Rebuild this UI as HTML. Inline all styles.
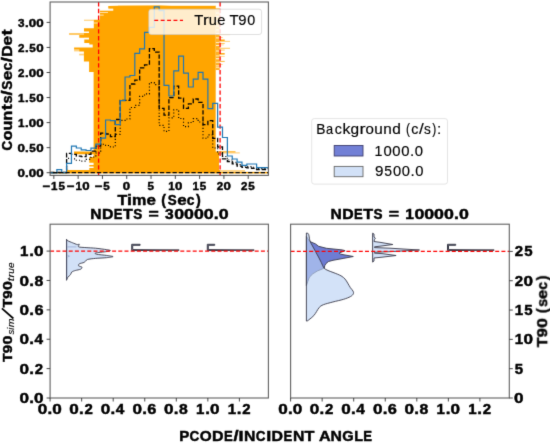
<!DOCTYPE html><html><head><meta charset="utf-8"><style>html,body{margin:0;padding:0;background:#fff;}svg{display:block;will-change:transform;}text{font-family:'Liberation Sans', sans-serif;}text[font-weight=bold],g.b text{stroke:#000;stroke-width:0.45px;}text[font-weight=normal],g.n text{stroke:#000;stroke-width:0.15px;}</style></head><body>
<svg width="550" height="444" viewBox="0 0 550 444">
<rect width="550" height="444" fill="#fff"/>
<filter id="soft" x="0" y="0" width="550" height="444" filterUnits="userSpaceOnUse" color-interpolation-filters="sRGB"><feConvolveMatrix order="3" kernelMatrix="0.0113 0.0838 0.0113 0.0838 0.6193 0.0838 0.0113 0.0838 0.0113" edgeMode="duplicate" preserveAlpha="false"/></filter>
<g filter="url(#soft)">
<rect width="550" height="444" fill="#fff"/>
<defs><clipPath id="ctop"><rect x="50.1" y="2.0" width="218.29999999999998" height="173.4"/></clipPath><clipPath id="cbl"><rect x="50.1" y="224.2" width="218.29999999999998" height="173.8"/></clipPath><clipPath id="cbr"><rect x="290.6" y="224.2" width="218.7" height="173.8"/></clipPath></defs>
<g clip-path="url(#ctop)">
<path d="M108.5,6.0 L118,5.8 L160,5.6 L215.7,8.0 L215.7,9.6 L108.5,9.6 Z" fill="#FFA500"/>
<rect x="84" y="19.7" width="9.8" height="1.1" fill="#FFA500" fill-opacity="0.55"/>
<rect x="69.1" y="33" width="14.9" height="2.0" fill="#FFA500" fill-opacity="0.6"/>
<rect x="74.1" y="49.5" width="5.1" height="1.9" fill="#FFA500" fill-opacity="0.5"/>
<rect x="79.2" y="53.7" width="4.7" height="1.7" fill="#FFA500" fill-opacity="0.5"/>
<rect x="118" y="5.6" width="98.0" height="0.4" fill="#FFA500" fill-opacity="0.5"/>
<rect x="215.7" y="8.3" width="4.0" height="61.7" fill="#FFA500" fill-opacity="0.85"/>
<rect x="216" y="12.5" width="3.5" height="1.0" fill="#fff" fill-opacity="0.8"/>
<rect x="216" y="16.2" width="3.5" height="0.9" fill="#fff" fill-opacity="0.8"/>
<rect x="216" y="20.5" width="3.5" height="1.2" fill="#fff" fill-opacity="0.8"/>
<rect x="216" y="25.6" width="3.5" height="0.9" fill="#fff" fill-opacity="0.8"/>
<rect x="216" y="29.4" width="3.5" height="1.0" fill="#fff" fill-opacity="0.8"/>
<rect x="216" y="33" width="3.5" height="0.9" fill="#fff" fill-opacity="0.8"/>
<rect x="216" y="37.4" width="3.5" height="1.0" fill="#fff" fill-opacity="0.8"/>
<rect x="216" y="42" width="3.5" height="0.9" fill="#fff" fill-opacity="0.8"/>
<rect x="216" y="45" width="3.5" height="1.0" fill="#fff" fill-opacity="0.8"/>
<rect x="216" y="50.5" width="3.5" height="1.0" fill="#fff" fill-opacity="0.8"/>
<rect x="216" y="55.5" width="3.5" height="0.9" fill="#fff" fill-opacity="0.8"/>
<rect x="215.7" y="58.1" width="4" height="1.2" fill="#fff" fill-opacity="0.8"/>
<rect x="216" y="61.8" width="3.5" height="0.9" fill="#fff" fill-opacity="0.8"/>
<rect x="216" y="65.4" width="3.5" height="1.0" fill="#fff" fill-opacity="0.8"/>
<rect x="216" y="67.3" width="3.5" height="0.8" fill="#fff" fill-opacity="0.8"/>
<rect x="219.7" y="34.3" width="10.3" height="0.8" fill="#FFA500" fill-opacity="0.5"/>
<rect x="219.7" y="39.5" width="5" height="1.5" fill="#FFA500" fill-opacity="0.95"/>
<rect x="219.7" y="40.9" width="10.3" height="0.8" fill="#FFA500" fill-opacity="0.7"/>
<rect x="219.7" y="43" width="5" height="0.9" fill="#FFA500" fill-opacity="0.7"/>
<rect x="219.7" y="47.8" width="10.3" height="0.9" fill="#FFA500" fill-opacity="0.75"/>
<rect x="219.7" y="49.6" width="5" height="0.9" fill="#FFA500" fill-opacity="0.7"/>
<rect x="219.7" y="53" width="5" height="1.6" fill="#FFA500" fill-opacity="0.9"/>
<rect x="219.7" y="56" width="5" height="0.8" fill="#FFA500" fill-opacity="0.5"/>
<rect x="219.7" y="60.9" width="5" height="1.0" fill="#FFA500" fill-opacity="0.8"/>
<rect x="219.7" y="37" width="3" height="1" fill="#FFA500" fill-opacity="0.5"/>
<rect x="219.7" y="44.5" width="4" height="0.8" fill="#FFA500" fill-opacity="0.5"/>
<rect x="219.7" y="64" width="3" height="0.8" fill="#FFA500" fill-opacity="0.5"/>
<path d="M108.5,6.0H215.7V8.6H108.5ZM113.2,8.6H215.7V10.5H113.2ZM99.9,10.5H215.7V19.7H99.9ZM93.8,19.7H215.7V20.8H93.8ZM93.8,20.8H215.7V28.3H93.8ZM84,28.3H215.7V31.4H84ZM89,31.4H215.7V33H89ZM84,33H215.7V35H84ZM79.3,35H215.7V37.7H79.3ZM89,37.7H215.7V39.5H89ZM84.3,39.5H215.7V43H84.3ZM89.3,43H215.7V44.5H89.3ZM92.7,44.5H215.7V47.6H92.7ZM74.1,47.6H215.7V49.5H74.1ZM79.2,49.5H215.7V51.4H79.2ZM83.9,51.4H215.7V55.4H83.9ZM83.9,55.4H215.7V61.5H83.9ZM89.1,61.5H215.7V72H89.1ZM93.6,72H215.7V151.6H93.6ZM74,151.6H219.0V154.3H74ZM93.6,154.3H219.0V157H93.6ZM89.3,157H219.0V162.8H89.3ZM93.6,162.8H219.0V165H93.6ZM89.3,165H219.0V166.6H89.3ZM93.6,166.6H219.0V168H93.6ZM89.3,168H219.0V170H89.3ZM66.8,170H220.0V172.6H66.8Z" fill="#FFA500"/>
<rect x="99.9" y="8.6" width="13.3" height="1.9" fill="#fff" fill-opacity="0.85"/>
<rect x="99.9" y="12.1" width="8.1" height="0.9" fill="#fff" fill-opacity="0.75"/>
<rect x="99.9" y="14.6" width="3.8" height="1.0" fill="#fff" fill-opacity="0.7"/>
<rect x="93.8" y="22.3" width="4" height="1.4" fill="#fff" fill-opacity="0.5"/>
<rect x="84" y="37.8" width="5" height="1.2" fill="#fff" fill-opacity="0.5"/>
<rect x="50.1" y="171.9" width="218.29999999999998" height="1.5" fill="#FFA500"/>
<rect x="220" y="170.3" width="25" height="1.2" fill="#FFA500" fill-opacity="0.7"/>
<rect x="219" y="151.2" width="16.5" height="1.2" fill="#FFA500" fill-opacity="0.85"/>
<rect x="219" y="152.4" width="20.8" height="1.0" fill="#FFA500" fill-opacity="0.6"/>
<line x1="98.6" y1="2.0" x2="98.6" y2="175.4" stroke="#FF0000" stroke-width="1.3" stroke-dasharray="4.4,2.4"/>
<line x1="220.1" y1="2.0" x2="220.1" y2="175.4" stroke="#FF0000" stroke-width="1.3" stroke-dasharray="4.4,2.4"/>
<path d="M50.10,172.50 L51.98,172.50 L51.98,172.50 L56.85,172.50 L56.85,172.50 L61.72,172.50 L61.72,172.50 L66.59,172.50 L66.59,158.40 L71.47,158.40 L71.47,158.80 L76.34,158.80 L76.34,160.20 L81.21,160.20 L81.21,161.10 L86.08,161.10 L86.08,159.30 L90.95,159.30 L90.95,157.00 L95.83,157.00 L95.83,153.00 L100.70,153.00 L100.70,144.20 L105.57,144.20 L105.57,145.50 L110.44,145.50 L110.44,147.00 L115.31,147.00 L115.31,134.20 L120.19,134.20 L120.19,120.40 L125.06,120.40 L125.06,119.00 L129.93,119.00 L129.93,107.50 L134.80,107.50 L134.80,105.40 L139.67,105.40 L139.67,96.30 L144.55,96.30 L144.55,93.80 L149.42,93.80 L149.42,82.60 L154.29,82.60 L154.29,84.60 L159.16,84.60 L159.16,125.30 L164.03,125.30 L164.03,131.40 L168.91,131.40 L168.91,117.80 L173.78,117.80 L173.78,109.70 L178.65,109.70 L178.65,118.50 L183.52,118.50 L183.52,126.60 L188.39,126.60 L188.39,122.50 L193.27,122.50 L193.27,118.60 L198.14,118.60 L198.14,122.00 L203.01,122.00 L203.01,138.20 L207.88,138.20 L207.88,134.90 L212.75,134.90 L212.75,148.00 L217.63,148.00 L217.63,154.00 L222.50,154.00 L222.50,156.50 L227.37,156.50 L227.37,160.00 L232.24,160.00 L232.24,162.30 L237.11,162.30 L237.11,164.60 L241.99,164.60 L241.99,166.00 L246.86,166.00 L246.86,166.60 L251.73,166.60 L251.73,167.20 L256.60,167.20 L256.60,168.60 L261.47,168.60 L261.47,168.60 L266.35,168.60 L266.35,168.60 L268.40,168.60" fill="none" stroke="#000" stroke-width="1.15" stroke-dasharray="1.1,2.1" />
<path d="M50.10,172.50 L51.98,172.50 L51.98,172.50 L56.85,172.50 L56.85,172.50 L61.72,172.50 L61.72,172.50 L66.59,172.50 L66.59,153.40 L71.47,153.40 L71.47,154.30 L76.34,154.30 L76.34,156.10 L81.21,156.10 L81.21,156.60 L86.08,156.60 L86.08,154.30 L90.95,154.30 L90.95,151.20 L95.83,151.20 L95.83,146.10 L100.70,146.10 L100.70,133.20 L105.57,133.20 L105.57,134.00 L110.44,134.00 L110.44,136.70 L115.31,136.70 L115.31,119.50 L120.19,119.50 L120.19,100.40 L125.06,100.40 L125.06,100.40 L129.93,100.40 L129.93,84.00 L134.80,84.00 L134.80,80.10 L139.67,80.10 L139.67,67.80 L144.55,67.80 L144.55,64.80 L149.42,64.80 L149.42,48.70 L154.29,48.70 L154.29,52.20 L159.16,52.20 L159.16,108.40 L164.03,108.40 L164.03,115.10 L168.91,115.10 L168.91,97.60 L173.78,97.60 L173.78,86.10 L178.65,86.10 L178.65,98.20 L183.52,98.20 L183.52,108.40 L188.39,108.40 L188.39,103.80 L193.27,103.80 L193.27,99.00 L198.14,99.00 L198.14,102.40 L203.01,102.40 L203.01,124.70 L207.88,124.70 L207.88,120.70 L212.75,120.70 L212.75,138.30 L217.63,138.30 L217.63,147.00 L222.50,147.00 L222.50,158.80 L227.37,158.80 L227.37,161.60 L232.24,161.60 L232.24,163.90 L237.11,163.90 L237.11,166.10 L241.99,166.10 L241.99,167.30 L246.86,167.30 L246.86,167.80 L251.73,167.80 L251.73,168.30 L256.60,168.30 L256.60,169.50 L261.47,169.50 L261.47,169.50 L266.35,169.50 L266.35,169.50 L268.40,169.50" fill="none" stroke="#000" stroke-width="1.3" stroke-dasharray="4.4,1.9" />
<path d="M50.10,172.90 L51.98,172.90 L51.98,172.90 L56.85,172.90 L56.85,169.60 L61.72,169.60 L61.72,172.60 L66.59,172.60 L66.59,163.30 L71.47,163.30 L71.47,146.20 L76.34,146.20 L76.34,148.00 L81.21,148.00 L81.21,149.80 L86.08,149.80 L86.08,150.50 L90.95,150.50 L90.95,148.20 L95.83,148.20 L95.83,144.20 L100.70,144.20 L100.70,138.10 L105.57,138.10 L105.57,120.00 L110.44,120.00 L110.44,120.70 L115.31,120.70 L115.31,124.70 L120.19,124.70 L120.19,100.70 L125.06,100.70 L125.06,77.00 L129.93,77.00 L129.93,75.50 L134.80,75.50 L134.80,53.40 L139.67,53.40 L139.67,48.80 L144.55,48.80 L144.55,32.40 L149.42,32.40 L149.42,27.40 L154.29,27.40 L154.29,6.80 L159.16,6.80 L159.16,10.70 L164.03,10.70 L164.03,85.40 L168.91,85.40 L168.91,96.00 L173.78,96.00 L173.78,70.80 L178.65,70.80 L178.65,56.20 L183.52,56.20 L183.52,73.10 L188.39,73.10 L188.39,87.00 L193.27,87.00 L193.27,79.20 L198.14,79.20 L198.14,72.40 L203.01,72.40 L203.01,79.20 L207.88,79.20 L207.88,108.70 L212.75,108.70 L212.75,103.40 L217.63,103.40 L217.63,127.20 L222.50,127.20 L222.50,137.50 L227.37,137.50 L227.37,156.00 L232.24,156.00 L232.24,159.00 L237.11,159.00 L237.11,162.20 L241.99,162.20 L241.99,165.30 L246.86,165.30 L246.86,164.00 L251.73,164.00 L251.73,164.00 L256.60,164.00 L256.60,167.70 L261.47,167.70 L261.47,167.70 L266.35,167.70 L266.35,167.70 L268.40,167.70" fill="none" stroke="#1f77b4" stroke-width="1.2" />
<line x1="46.5" y1="172.6" x2="268.4" y2="172.6" stroke="#000" stroke-width="1.35" stroke-dasharray="4.3,2.0"/>
</g>
<rect x="148.8" y="9.2" width="112.8" height="25.3" rx="2.5" fill="#fff" fill-opacity="0.8" stroke="#ccc" stroke-opacity="0.8" stroke-width="0.8"/>
<line x1="154.3" y1="20.4" x2="183" y2="20.4" stroke="#FF0000" stroke-width="1.3" stroke-dasharray="3.9,2.5"/>
<g transform="translate(194.60,24.70)" font-size="14.4" font-weight="normal" class="n"><text transform="translate(4.19,0) scale(1.030,1)" x="-4.39" y="0">T</text><text transform="translate(11.76,0) scale(1.210,1)" x="-2.76" y="0">r</text><text transform="translate(18.21,0) scale(1.018,1)" x="-3.99" y="0">u</text><text transform="translate(26.76,0) scale(1.020,1)" x="-3.99" y="0">e</text><text transform="translate(39.40,0) scale(1.030,1)" x="-4.39" y="0">T</text><text transform="translate(47.83,0) scale(1.028,1)" x="-4.00" y="0">9</text><text transform="translate(56.53,0) scale(0.996,1)" x="-4.00" y="0">0</text></g>
<rect x="50.1" y="2.0" width="218.29999999999998" height="173.4" fill="none" stroke="#606060" stroke-width="1.1"/>
<path d="M53.84,175.4v3.5M78.14,175.4v3.5M102.44,175.4v3.5M126.73,175.4v3.5M151.03,175.4v3.5M175.32,175.4v3.5M199.62,175.4v3.5M223.91,175.4v3.5M248.20,175.4v3.5M50.1,172.70h-3.5M50.1,147.65h-3.5M50.1,122.60h-3.5M50.1,97.55h-3.5M50.1,72.50h-3.5M50.1,47.45h-3.5M50.1,22.40h-3.5" stroke="#333" stroke-width="0.9" fill="none"/>
<g transform="translate(53.55,189.90)" font-size="11.2" font-weight="bold" class="b"><text transform="translate(-7.31,0) scale(1.170,1)" x="-3.27" y="0">−</text><text transform="translate(0.98,0) scale(1.036,1)" x="-3.31" y="0">1</text><text transform="translate(8.09,0) scale(1.034,1)" x="-3.13" y="0">5</text></g>
<g transform="translate(77.84,189.90)" font-size="11.2" font-weight="bold" class="b"><text transform="translate(-7.31,0) scale(1.170,1)" x="-3.27" y="0">−</text><text transform="translate(0.98,0) scale(1.036,1)" x="-3.31" y="0">1</text><text transform="translate(8.05,0) scale(1.183,1)" x="-3.11" y="0">0</text></g>
<g transform="translate(102.14,189.90)" font-size="11.2" font-weight="bold" class="b"><text transform="translate(-3.65,0) scale(1.170,1)" x="-3.27" y="0">−</text><text transform="translate(4.44,0) scale(1.034,1)" x="-3.13" y="0">5</text></g>
<g transform="translate(126.43,189.90)" font-size="11.2" font-weight="bold" class="b"><text transform="translate(0.00,0) scale(1.183,1)" x="-3.11" y="0">0</text></g>
<g transform="translate(150.72,189.90)" font-size="11.2" font-weight="bold" class="b"><text transform="translate(0.04,0) scale(1.034,1)" x="-3.13" y="0">5</text></g>
<g transform="translate(175.02,189.90)" font-size="11.2" font-weight="bold" class="b"><text transform="translate(-3.42,0) scale(1.036,1)" x="-3.31" y="0">1</text><text transform="translate(3.65,0) scale(1.183,1)" x="-3.11" y="0">0</text></g>
<g transform="translate(199.31,189.90)" font-size="11.2" font-weight="bold" class="b"><text transform="translate(-3.42,0) scale(1.036,1)" x="-3.31" y="0">1</text><text transform="translate(3.69,0) scale(1.034,1)" x="-3.13" y="0">5</text></g>
<g transform="translate(223.61,189.90)" font-size="11.2" font-weight="bold" class="b"><text transform="translate(-3.69,0) scale(1.032,1)" x="-3.08" y="0">2</text><text transform="translate(3.65,0) scale(1.183,1)" x="-3.11" y="0">0</text></g>
<g transform="translate(247.90,189.90)" font-size="11.2" font-weight="bold" class="b"><text transform="translate(-3.69,0) scale(1.032,1)" x="-3.08" y="0">2</text><text transform="translate(3.69,0) scale(1.034,1)" x="-3.13" y="0">5</text></g>
<g transform="translate(43.60,176.80)" font-size="11.2" font-weight="bold" class="b"><text transform="translate(-22.47,0) scale(1.194,1)" x="-3.11" y="0">0</text><text transform="translate(-16.76,0) scale(1.179,1)" x="-1.55" y="0">.</text><text transform="translate(-11.06,0) scale(1.194,1)" x="-3.11" y="0">0</text><text transform="translate(-3.69,0) scale(1.194,1)" x="-3.11" y="0">0</text></g>
<g transform="translate(43.60,151.75)" font-size="11.2" font-weight="bold" class="b"><text transform="translate(-22.47,0) scale(1.194,1)" x="-3.11" y="0">0</text><text transform="translate(-16.76,0) scale(1.179,1)" x="-1.55" y="0">.</text><text transform="translate(-11.02,0) scale(1.044,1)" x="-3.13" y="0">5</text><text transform="translate(-3.69,0) scale(1.194,1)" x="-3.11" y="0">0</text></g>
<g transform="translate(43.60,126.70)" font-size="11.2" font-weight="bold" class="b"><text transform="translate(-22.23,0) scale(1.046,1)" x="-3.31" y="0">1</text><text transform="translate(-16.76,0) scale(1.179,1)" x="-1.55" y="0">.</text><text transform="translate(-11.06,0) scale(1.194,1)" x="-3.11" y="0">0</text><text transform="translate(-3.69,0) scale(1.194,1)" x="-3.11" y="0">0</text></g>
<g transform="translate(43.60,101.65)" font-size="11.2" font-weight="bold" class="b"><text transform="translate(-22.23,0) scale(1.046,1)" x="-3.31" y="0">1</text><text transform="translate(-16.76,0) scale(1.179,1)" x="-1.55" y="0">.</text><text transform="translate(-11.02,0) scale(1.044,1)" x="-3.13" y="0">5</text><text transform="translate(-3.69,0) scale(1.194,1)" x="-3.11" y="0">0</text></g>
<g transform="translate(43.60,76.60)" font-size="11.2" font-weight="bold" class="b"><text transform="translate(-22.51,0) scale(1.041,1)" x="-3.08" y="0">2</text><text transform="translate(-16.76,0) scale(1.179,1)" x="-1.55" y="0">.</text><text transform="translate(-11.06,0) scale(1.194,1)" x="-3.11" y="0">0</text><text transform="translate(-3.69,0) scale(1.194,1)" x="-3.11" y="0">0</text></g>
<g transform="translate(43.60,51.55)" font-size="11.2" font-weight="bold" class="b"><text transform="translate(-22.51,0) scale(1.041,1)" x="-3.08" y="0">2</text><text transform="translate(-16.76,0) scale(1.179,1)" x="-1.55" y="0">.</text><text transform="translate(-11.02,0) scale(1.044,1)" x="-3.13" y="0">5</text><text transform="translate(-3.69,0) scale(1.194,1)" x="-3.11" y="0">0</text></g>
<g transform="translate(43.60,26.50)" font-size="11.2" font-weight="bold" class="b"><text transform="translate(-22.53,0) scale(1.046,1)" x="-3.04" y="0">3</text><text transform="translate(-16.76,0) scale(1.179,1)" x="-1.55" y="0">.</text><text transform="translate(-11.06,0) scale(1.194,1)" x="-3.11" y="0">0</text><text transform="translate(-3.69,0) scale(1.194,1)" x="-3.11" y="0">0</text></g>
<g transform="translate(117.70,204.80)" font-size="14.0" font-weight="bold" class="b"><text transform="translate(4.69,0) scale(1.137,1)" x="-4.28" y="0">T</text><text transform="translate(11.84,0) scale(1.269,1)" x="-1.94" y="0">i</text><text transform="translate(21.52,0) scale(1.152,1)" x="-6.25" y="0">m</text><text transform="translate(33.46,0) scale(1.211,1)" x="-3.93" y="0">e</text><text transform="translate(46.31,0) scale(1.027,1)" x="-2.67" y="0">(</text><text transform="translate(54.47,0) scale(0.957,1)" x="-4.60" y="0">S</text><text transform="translate(64.20,0) scale(1.211,1)" x="-3.93" y="0">e</text><text transform="translate(72.93,0) scale(0.986,1)" x="-3.96" y="0">c</text><text transform="translate(80.38,0) scale(1.027,1)" x="-1.99" y="0">)</text></g>
<g transform="translate(11.80,150.00) rotate(-90)" font-size="14.0" font-weight="bold" class="b"><text transform="translate(4.37,0) scale(0.955,1)" x="-5.15" y="0">C</text><text transform="translate(14.49,0) scale(1.136,1)" x="-4.28" y="0">o</text><text transform="translate(24.31,0) scale(1.147,1)" x="-4.25" y="0">u</text><text transform="translate(34.43,0) scale(1.147,1)" x="-4.30" y="0">n</text><text transform="translate(42.71,0) scale(1.300,1)" x="-2.33" y="0">t</text><text transform="translate(50.38,0) scale(1.041,1)" x="-3.85" y="0">s</text><text transform="translate(57.12,0) scale(1.300,1)" x="-1.94" y="0">/</text><text transform="translate(64.76,0) scale(0.967,1)" x="-4.60" y="0">S</text><text transform="translate(74.59,0) scale(1.224,1)" x="-3.93" y="0">e</text><text transform="translate(83.42,0) scale(0.997,1)" x="-3.96" y="0">c</text><text transform="translate(90.34,0) scale(1.300,1)" x="-1.94" y="0">/</text><text transform="translate(99.05,0) scale(1.127,1)" x="-5.23" y="0">D</text><text transform="translate(109.36,0) scale(1.224,1)" x="-3.93" y="0">e</text><text transform="translate(117.49,0) scale(1.300,1)" x="-2.33" y="0">t</text></g>
<rect x="311.7" y="118.6" width="135.8" height="65.5" rx="2.5" fill="#fff" stroke="#ddd" stroke-width="0.8"/>
<g transform="translate(317.40,134.10)" font-size="14.2" font-weight="normal" class="n"><text transform="translate(3.67,0) scale(0.972,1)" x="-4.94" y="0">B</text><text transform="translate(12.48,0) scale(0.899,1)" x="-4.25" y="0">a</text><text transform="translate(20.90,0) scale(1.003,1)" x="-3.66" y="0">c</text><text transform="translate(29.59,0) scale(1.118,1)" x="-4.04" y="0">k</text><text transform="translate(37.33,0) scale(1.087,1)" x="-3.79" y="0">g</text><text transform="translate(45.66,0) scale(1.281,1)" x="-2.72" y="0">r</text><text transform="translate(52.28,0) scale(1.063,1)" x="-3.95" y="0">o</text><text transform="translate(61.08,0) scale(1.078,1)" x="-3.94" y="0">u</text><text transform="translate(70.16,0) scale(1.078,1)" x="-3.96" y="0">n</text><text transform="translate(78.87,0) scale(1.087,1)" x="-3.79" y="0">d</text><text transform="translate(90.96,0) scale(0.850,1)" x="-2.76" y="0">(</text><text transform="translate(97.54,0) scale(1.003,1)" x="-3.66" y="0">c</text><text transform="translate(103.89,0) scale(1.213,1)" x="-1.97" y="0">/</text><text transform="translate(110.02,0) scale(0.959,1)" x="-3.49" y="0">s</text><text transform="translate(116.40,0) scale(0.850,1)" x="-1.97" y="0">)</text><text transform="translate(121.61,0) scale(1.082,1)" x="-1.97" y="0">:</text></g>
<rect x="334.2" y="145.5" width="28.8" height="10.5" fill="#7280D6" stroke="#3c3c6e" stroke-width="0.9"/>
<rect x="334.2" y="166.4" width="28.8" height="10.3" fill="#D2E1F7" stroke="#666" stroke-width="0.9"/>
<g transform="translate(375.60,156.00)" font-size="14.2" font-weight="normal" class="n"><text transform="translate(3.06,0) scale(1.000,1)" x="-4.14" y="0">1</text><text transform="translate(11.90,0) scale(1.047,1)" x="-3.95" y="0">0</text><text transform="translate(20.87,0) scale(1.047,1)" x="-3.95" y="0">0</text><text transform="translate(29.85,0) scale(1.047,1)" x="-3.95" y="0">0</text><text transform="translate(36.57,0) scale(1.074,1)" x="-1.97" y="0">.</text><text transform="translate(43.30,0) scale(1.047,1)" x="-3.95" y="0">0</text></g>
<g transform="translate(375.60,175.80)" font-size="14.2" font-weight="normal" class="n"><text transform="translate(3.52,0) scale(1.073,1)" x="-3.95" y="0">9</text><text transform="translate(12.41,0) scale(0.981,1)" x="-3.93" y="0">5</text><text transform="translate(21.38,0) scale(1.039,1)" x="-3.95" y="0">0</text><text transform="translate(30.29,0) scale(1.039,1)" x="-3.95" y="0">0</text><text transform="translate(36.97,0) scale(1.067,1)" x="-1.97" y="0">.</text><text transform="translate(43.65,0) scale(1.039,1)" x="-3.95" y="0">0</text></g>
<g clip-path="url(#cbl)">
<path d="M66.50,239.20 C66.65,239.39 67.09,240.38 67.80,240.80 C68.51,241.22 71.49,242.36 72.60,242.80 C73.71,243.24 76.52,244.44 77.30,244.60 C78.08,244.76 79.15,243.93 79.30,244.20 C79.45,244.47 77.81,246.50 78.60,246.90 C79.39,247.30 84.13,247.45 86.10,247.60 C88.07,247.75 93.13,247.97 95.50,248.20 C97.87,248.43 104.66,249.33 106.40,249.60 C108.14,249.87 110.40,250.27 110.40,250.50 C110.40,250.73 108.14,251.31 106.40,251.60 C104.66,251.89 96.61,252.69 95.50,253.00 C94.39,253.31 95.63,254.02 96.90,254.30 C98.17,254.58 104.51,255.13 106.40,255.40 C108.29,255.67 113.10,256.33 113.10,256.60 C113.10,256.87 108.45,257.49 106.40,257.70 C104.35,257.91 97.72,258.19 95.50,258.40 C93.28,258.61 88.73,259.03 87.40,259.50 C86.07,259.97 85.05,261.90 84.10,262.40 C83.15,262.90 79.94,263.40 79.30,263.80 C78.66,264.20 78.28,265.40 78.60,265.80 C78.91,266.20 81.75,266.80 82.00,267.20 C82.25,267.60 81.48,268.81 80.70,269.20 C79.92,269.58 76.33,270.19 75.30,270.50 C74.27,270.81 72.46,271.42 71.90,271.90 C71.34,272.38 70.98,273.97 70.50,274.60 C70.02,275.23 68.27,276.63 67.80,277.30 C67.33,277.97 66.65,279.95 66.50,280.30 Z" fill="#D2E1F7" stroke="#3a3a4a" stroke-width="0.9"/>
<path d="M66.6,240 V279.5" stroke="#4a4f66" stroke-width="1.1" fill="none"/>
<path d="M67.5,246.9 H76.5" stroke="#7c8fc4" stroke-width="0.8" fill="none" opacity="0.7"/>
<path d="M67.5,255.3 L69.5,256.2 L67.5,257" stroke="#7c8fc4" stroke-width="0.8" fill="none" opacity="0.7"/>
<path d="M131.7,250.6 V244.3 H140.1 V245.3 H132.7 V249.6 L179.2,250.1 L131.7,250.6 Z" fill="#D2E1F7" stroke="#222230" stroke-width="0.9" stroke-linejoin="miter"/>
<path d="M207.3,250.6 V244.3 H214.7 V245.3 H208.3 V249.6 L254.2,250.1 L207.3,250.6 Z" fill="#D2E1F7" stroke="#222230" stroke-width="0.9" stroke-linejoin="miter"/>
<line x1="50.1" y1="251.1" x2="268.4" y2="251.1" stroke="#FF0000" stroke-width="1.3" stroke-dasharray="4,2.2"/>
</g>
<rect x="50.1" y="224.2" width="218.29999999999998" height="173.8" fill="none" stroke="#606060" stroke-width="1.1"/>
<path d="M50.10,398.0v3.5M81.65,398.0v3.5M113.20,398.0v3.5M144.75,398.0v3.5M176.30,398.0v3.5M207.85,398.0v3.5M239.40,398.0v3.5M50.1,398.00h-3.5M50.1,368.62h-3.5M50.1,339.24h-3.5M50.1,309.86h-3.5M50.1,280.48h-3.5M50.1,251.10h-3.5" stroke="#333" stroke-width="0.9" fill="none"/>
<g transform="translate(49.80,413.80)" font-size="13.9" font-weight="bold" class="b"><text transform="translate(-7.31,0) scale(1.235,1)" x="-3.86" y="0">0</text><text transform="translate(-0.00,0) scale(1.219,1)" x="-1.92" y="0">.</text><text transform="translate(7.31,0) scale(1.235,1)" x="-3.86" y="0">0</text></g>
<g transform="translate(81.35,413.80)" font-size="13.9" font-weight="bold" class="b"><text transform="translate(-7.31,0) scale(1.235,1)" x="-3.86" y="0">0</text><text transform="translate(-0.00,0) scale(1.219,1)" x="-1.92" y="0">.</text><text transform="translate(7.26,0) scale(1.077,1)" x="-3.83" y="0">2</text></g>
<g transform="translate(112.90,413.80)" font-size="13.9" font-weight="bold" class="b"><text transform="translate(-7.31,0) scale(1.235,1)" x="-3.86" y="0">0</text><text transform="translate(-0.00,0) scale(1.219,1)" x="-1.92" y="0">.</text><text transform="translate(7.31,0) scale(1.105,1)" x="-3.93" y="0">4</text></g>
<g transform="translate(144.45,413.80)" font-size="13.9" font-weight="bold" class="b"><text transform="translate(-7.31,0) scale(1.235,1)" x="-3.86" y="0">0</text><text transform="translate(-0.00,0) scale(1.219,1)" x="-1.92" y="0">.</text><text transform="translate(7.37,0) scale(1.174,1)" x="-3.87" y="0">6</text></g>
<g transform="translate(176.00,413.80)" font-size="13.9" font-weight="bold" class="b"><text transform="translate(-7.31,0) scale(1.235,1)" x="-3.86" y="0">0</text><text transform="translate(-0.00,0) scale(1.219,1)" x="-1.92" y="0">.</text><text transform="translate(7.31,0) scale(1.135,1)" x="-3.87" y="0">8</text></g>
<g transform="translate(207.55,413.80)" font-size="13.9" font-weight="bold" class="b"><text transform="translate(-7.02,0) scale(1.081,1)" x="-4.11" y="0">1</text><text transform="translate(-0.00,0) scale(1.219,1)" x="-1.92" y="0">.</text><text transform="translate(7.31,0) scale(1.235,1)" x="-3.86" y="0">0</text></g>
<g transform="translate(239.10,413.80)" font-size="13.9" font-weight="bold" class="b"><text transform="translate(-7.02,0) scale(1.081,1)" x="-4.11" y="0">1</text><text transform="translate(-0.00,0) scale(1.219,1)" x="-1.92" y="0">.</text><text transform="translate(7.26,0) scale(1.077,1)" x="-3.83" y="0">2</text></g>
<g transform="translate(43.60,403.20)" font-size="13.9" font-weight="bold" class="b"><text transform="translate(-19.36,0) scale(1.235,1)" x="-3.86" y="0">0</text><text transform="translate(-12.05,0) scale(1.219,1)" x="-1.92" y="0">.</text><text transform="translate(-4.73,0) scale(1.235,1)" x="-3.86" y="0">0</text></g>
<g transform="translate(43.60,373.82)" font-size="13.9" font-weight="bold" class="b"><text transform="translate(-19.36,0) scale(1.235,1)" x="-3.86" y="0">0</text><text transform="translate(-12.05,0) scale(1.219,1)" x="-1.92" y="0">.</text><text transform="translate(-4.78,0) scale(1.077,1)" x="-3.83" y="0">2</text></g>
<g transform="translate(43.60,344.44)" font-size="13.9" font-weight="bold" class="b"><text transform="translate(-19.36,0) scale(1.235,1)" x="-3.86" y="0">0</text><text transform="translate(-12.05,0) scale(1.219,1)" x="-1.92" y="0">.</text><text transform="translate(-4.74,0) scale(1.105,1)" x="-3.93" y="0">4</text></g>
<g transform="translate(43.60,315.06)" font-size="13.9" font-weight="bold" class="b"><text transform="translate(-19.36,0) scale(1.235,1)" x="-3.86" y="0">0</text><text transform="translate(-12.05,0) scale(1.219,1)" x="-1.92" y="0">.</text><text transform="translate(-4.68,0) scale(1.174,1)" x="-3.87" y="0">6</text></g>
<g transform="translate(43.60,285.68)" font-size="13.9" font-weight="bold" class="b"><text transform="translate(-19.36,0) scale(1.235,1)" x="-3.86" y="0">0</text><text transform="translate(-12.05,0) scale(1.219,1)" x="-1.92" y="0">.</text><text transform="translate(-4.74,0) scale(1.135,1)" x="-3.87" y="0">8</text></g>
<g transform="translate(43.60,256.30)" font-size="13.9" font-weight="bold" class="b"><text transform="translate(-19.06,0) scale(1.081,1)" x="-4.11" y="0">1</text><text transform="translate(-12.05,0) scale(1.219,1)" x="-1.92" y="0">.</text><text transform="translate(-4.73,0) scale(1.235,1)" x="-3.86" y="0">0</text></g>
<g transform="translate(159.60,219.00)" font-size="14.0" font-weight="bold" class="b"><text transform="translate(-63.79,0) scale(1.119,1)" x="-5.05" y="0">N</text><text transform="translate(-51.76,0) scale(1.127,1)" x="-5.23" y="0">D</text><text transform="translate(-41.24,0) scale(0.930,1)" x="-4.86" y="0">E</text><text transform="translate(-31.75,0) scale(1.149,1)" x="-4.28" y="0">T</text><text transform="translate(-21.87,0) scale(0.967,1)" x="-4.60" y="0">S</text><text transform="translate(-5.97,0) scale(1.257,1)" x="-4.09" y="0">=</text><text transform="translate(9.67,0) scale(1.113,1)" x="-3.80" y="0">3</text><text transform="translate(19.57,0) scale(1.271,1)" x="-3.88" y="0">0</text><text transform="translate(29.38,0) scale(1.271,1)" x="-3.88" y="0">0</text><text transform="translate(39.19,0) scale(1.271,1)" x="-3.88" y="0">0</text><text transform="translate(49.00,0) scale(1.271,1)" x="-3.88" y="0">0</text><text transform="translate(56.58,0) scale(1.255,1)" x="-1.94" y="0">.</text><text transform="translate(64.17,0) scale(1.271,1)" x="-3.88" y="0">0</text></g>
<g clip-path="url(#cbr)">
<path d="M306.4,236.5 L310.0,241.6 L315.5,243.9 L318.6,246.3 L326.5,248.3 L342.3,249.9 L345.1,250.7 L339.1,253.1 L340.7,254.2 L353.3,256.5 L343.9,258.3 L333.0,260.3 L328.5,261.5 L326.0,263.5 L324.8,265.5 L324.2,268.2 L317.3,271.0 L312.8,273.8 L309.4,277.2 L307.7,281.7 L306.4,285.5 Z" fill="#6E7CD3" stroke="#3a3a4a" stroke-width="0.9"/>
<path d="M306.40,233.00 C306.70,233.10 307.77,233.13 308.20,233.60 C308.63,234.07 308.70,234.57 309.00,235.80 C309.30,237.03 309.42,239.30 310.00,241.00 C310.58,242.70 311.58,244.25 312.50,246.00 C313.42,247.75 314.50,249.67 315.50,251.50 C316.50,253.33 317.53,255.17 318.50,257.00 C319.47,258.83 320.38,260.67 321.30,262.50 C322.22,264.33 322.88,266.67 324.00,268.00 C325.12,269.33 326.33,269.70 328.00,270.50 C329.67,271.30 331.83,271.92 334.00,272.80 C336.17,273.68 339.17,274.77 341.00,275.80 C342.83,276.83 343.88,277.78 345.00,279.00 C346.12,280.22 346.80,281.65 347.70,283.10 C348.60,284.55 349.50,286.35 350.40,287.70 C351.30,289.05 352.62,290.17 353.10,291.20 C353.58,292.23 353.75,293.00 353.30,293.90 C352.85,294.80 352.02,295.70 350.40,296.60 C348.78,297.50 346.53,298.40 343.60,299.30 C340.67,300.20 336.17,301.10 332.80,302.00 C329.43,302.90 325.65,303.80 323.40,304.70 C321.15,305.60 320.43,306.27 319.30,307.40 C318.17,308.53 317.50,310.15 316.60,311.50 C315.70,312.85 315.02,314.25 313.90,315.50 C312.78,316.75 311.02,318.08 309.90,319.00 C308.78,319.92 307.78,320.67 307.20,321.00 C306.62,321.33 306.53,321.00 306.40,321.00 Z" fill="#BCD2F4" fill-opacity="0.65" stroke="#3a3a4a" stroke-width="0.9"/>
<path d="M372.6,233.2 L374.0,234.0 L374.0,237.0 L375.4,238.2 L374.5,239.5 L374.0,241.5 L380.0,242.3 L392.8,244.5 L380.0,246.2 L374.5,246.8 L374.5,247.6 L390.0,248.2 L419.5,250.0 L390.0,251.7 L374.5,252.3 L374.5,253.2 L382.0,253.6 L396.1,255.5 L382.0,257.2 L374.0,258.0 L374.0,261.0 L372.6,262.1 Z" fill="#D2E1F7" stroke="#3a3a4a" stroke-width="0.9"/>
<path d="M447.5,250.6 V244.3 H455.7 V245.3 H448.5 V249.6 L494.2,250.1 L447.5,250.6 Z" fill="#D2E1F7" stroke="#222230" stroke-width="0.9" stroke-linejoin="miter"/>
<line x1="290.6" y1="251.4" x2="509.3" y2="251.4" stroke="#FF0000" stroke-width="1.3" stroke-dasharray="4,2.2"/>
</g>
<rect x="290.6" y="224.2" width="218.7" height="173.8" fill="none" stroke="#606060" stroke-width="1.1"/>
<path d="M290.60,398.0v3.5M322.15,398.0v3.5M353.70,398.0v3.5M385.25,398.0v3.5M416.80,398.0v3.5M448.35,398.0v3.5M479.90,398.0v3.5M509.3,398.00h3.5M509.3,368.68h3.5M509.3,339.36h3.5M509.3,310.04h3.5M509.3,280.72h3.5M509.3,251.40h3.5" stroke="#333" stroke-width="0.9" fill="none"/>
<g transform="translate(290.30,413.80)" font-size="13.9" font-weight="bold" class="b"><text transform="translate(-7.31,0) scale(1.235,1)" x="-3.86" y="0">0</text><text transform="translate(-0.00,0) scale(1.219,1)" x="-1.92" y="0">.</text><text transform="translate(7.31,0) scale(1.235,1)" x="-3.86" y="0">0</text></g>
<g transform="translate(321.85,413.80)" font-size="13.9" font-weight="bold" class="b"><text transform="translate(-7.31,0) scale(1.235,1)" x="-3.86" y="0">0</text><text transform="translate(-0.00,0) scale(1.219,1)" x="-1.92" y="0">.</text><text transform="translate(7.26,0) scale(1.077,1)" x="-3.83" y="0">2</text></g>
<g transform="translate(353.40,413.80)" font-size="13.9" font-weight="bold" class="b"><text transform="translate(-7.31,0) scale(1.235,1)" x="-3.86" y="0">0</text><text transform="translate(-0.00,0) scale(1.219,1)" x="-1.92" y="0">.</text><text transform="translate(7.31,0) scale(1.105,1)" x="-3.93" y="0">4</text></g>
<g transform="translate(384.95,413.80)" font-size="13.9" font-weight="bold" class="b"><text transform="translate(-7.31,0) scale(1.235,1)" x="-3.86" y="0">0</text><text transform="translate(-0.00,0) scale(1.219,1)" x="-1.92" y="0">.</text><text transform="translate(7.37,0) scale(1.174,1)" x="-3.87" y="0">6</text></g>
<g transform="translate(416.50,413.80)" font-size="13.9" font-weight="bold" class="b"><text transform="translate(-7.31,0) scale(1.235,1)" x="-3.86" y="0">0</text><text transform="translate(-0.00,0) scale(1.219,1)" x="-1.92" y="0">.</text><text transform="translate(7.31,0) scale(1.135,1)" x="-3.87" y="0">8</text></g>
<g transform="translate(448.05,413.80)" font-size="13.9" font-weight="bold" class="b"><text transform="translate(-7.02,0) scale(1.081,1)" x="-4.11" y="0">1</text><text transform="translate(-0.00,0) scale(1.219,1)" x="-1.92" y="0">.</text><text transform="translate(7.31,0) scale(1.235,1)" x="-3.86" y="0">0</text></g>
<g transform="translate(479.60,413.80)" font-size="13.9" font-weight="bold" class="b"><text transform="translate(-7.02,0) scale(1.081,1)" x="-4.11" y="0">1</text><text transform="translate(-0.00,0) scale(1.219,1)" x="-1.92" y="0">.</text><text transform="translate(7.26,0) scale(1.077,1)" x="-3.83" y="0">2</text></g>
<g transform="translate(514.10,403.00)" font-size="13.9" font-weight="bold" class="b"><text transform="translate(4.73,0) scale(1.235,1)" x="-3.86" y="0">0</text></g>
<g transform="translate(514.10,373.68)" font-size="13.9" font-weight="bold" class="b"><text transform="translate(4.78,0) scale(1.079,1)" x="-3.89" y="0">5</text></g>
<g transform="translate(514.10,344.36)" font-size="13.9" font-weight="bold" class="b"><text transform="translate(5.03,0) scale(1.081,1)" x="-4.11" y="0">1</text><text transform="translate(14.19,0) scale(1.235,1)" x="-3.86" y="0">0</text></g>
<g transform="translate(514.10,315.04)" font-size="13.9" font-weight="bold" class="b"><text transform="translate(5.03,0) scale(1.081,1)" x="-4.11" y="0">1</text><text transform="translate(14.24,0) scale(1.079,1)" x="-3.89" y="0">5</text></g>
<g transform="translate(514.10,285.72)" font-size="13.9" font-weight="bold" class="b"><text transform="translate(4.68,0) scale(1.077,1)" x="-3.83" y="0">2</text><text transform="translate(14.19,0) scale(1.235,1)" x="-3.86" y="0">0</text></g>
<g transform="translate(514.10,256.40)" font-size="13.9" font-weight="bold" class="b"><text transform="translate(4.68,0) scale(1.077,1)" x="-3.83" y="0">2</text><text transform="translate(14.24,0) scale(1.079,1)" x="-3.89" y="0">5</text></g>
<g transform="translate(399.80,219.00)" font-size="14.0" font-weight="bold" class="b"><text transform="translate(-63.79,0) scale(1.119,1)" x="-5.05" y="0">N</text><text transform="translate(-51.76,0) scale(1.127,1)" x="-5.23" y="0">D</text><text transform="translate(-41.24,0) scale(0.930,1)" x="-4.86" y="0">E</text><text transform="translate(-31.75,0) scale(1.149,1)" x="-4.28" y="0">T</text><text transform="translate(-21.87,0) scale(0.967,1)" x="-4.60" y="0">S</text><text transform="translate(-5.97,0) scale(1.257,1)" x="-4.09" y="0">=</text><text transform="translate(10.07,0) scale(1.113,1)" x="-4.14" y="0">1</text><text transform="translate(19.57,0) scale(1.271,1)" x="-3.88" y="0">0</text><text transform="translate(29.38,0) scale(1.271,1)" x="-3.88" y="0">0</text><text transform="translate(39.19,0) scale(1.271,1)" x="-3.88" y="0">0</text><text transform="translate(49.00,0) scale(1.271,1)" x="-3.88" y="0">0</text><text transform="translate(56.58,0) scale(1.255,1)" x="-1.94" y="0">.</text><text transform="translate(64.17,0) scale(1.271,1)" x="-3.88" y="0">0</text></g>
<g transform="translate(275.90,440.60)" font-size="14.0" font-weight="bold" class="b"><text transform="translate(-91.43,0) scale(1.076,1)" x="-4.90" y="0">P</text><text transform="translate(-81.48,0) scale(0.962,1)" x="-5.15" y="0">C</text><text transform="translate(-70.13,0) scale(1.095,1)" x="-5.44" y="0">O</text><text transform="translate(-57.92,0) scale(1.135,1)" x="-5.23" y="0">D</text><text transform="translate(-47.33,0) scale(0.937,1)" x="-4.86" y="0">E</text><text transform="translate(-40.01,0) scale(1.300,1)" x="-1.94" y="0">/</text><text transform="translate(-34.78,0) scale(1.300,1)" x="-1.94" y="0">I</text><text transform="translate(-26.20,0) scale(1.127,1)" x="-5.05" y="0">N</text><text transform="translate(-15.14,0) scale(0.962,1)" x="-5.15" y="0">C</text><text transform="translate(-7.19,0) scale(1.300,1)" x="-1.94" y="0">I</text><text transform="translate(1.63,0) scale(1.135,1)" x="-5.23" y="0">D</text><text transform="translate(12.22,0) scale(0.937,1)" x="-4.86" y="0">E</text><text transform="translate(22.88,0) scale(1.127,1)" x="-5.05" y="0">N</text><text transform="translate(33.66,0) scale(1.157,1)" x="-4.28" y="0">T</text><text transform="translate(48.95,0) scale(1.155,1)" x="-5.04" y="0">A</text><text transform="translate(60.38,0) scale(1.127,1)" x="-5.05" y="0">N</text><text transform="translate(71.98,0) scale(1.048,1)" x="-5.30" y="0">G</text><text transform="translate(82.96,0) scale(1.024,1)" x="-4.53" y="0">L</text><text transform="translate(92.01,0) scale(0.937,1)" x="-4.86" y="0">E</text></g>
<g transform="translate(547.20,346.80) rotate(-90)" font-size="14.0" font-weight="bold" class="b"><text transform="translate(4.64,0) scale(1.125,1)" x="-4.28" y="0">T</text><text transform="translate(14.06,0) scale(1.180,1)" x="-3.88" y="0">9</text><text transform="translate(23.75,0) scale(1.244,1)" x="-3.88" y="0">0</text><text transform="translate(36.55,0) scale(1.016,1)" x="-2.67" y="0">(</text><text transform="translate(43.80,0) scale(1.019,1)" x="-3.85" y="0">s</text><text transform="translate(52.52,0) scale(1.198,1)" x="-3.93" y="0">e</text><text transform="translate(61.16,0) scale(0.976,1)" x="-3.96" y="0">c</text><text transform="translate(68.53,0) scale(1.016,1)" x="-1.99" y="0">)</text></g>
<g transform="translate(11.80,361.90) rotate(-90)" font-size="13.7" font-weight="bold" class="b"><text transform="translate(4.23,0) scale(1.049,1)" x="-4.19" y="0">T</text><text transform="translate(12.84,0) scale(1.101,1)" x="-3.79" y="0">9</text><text transform="translate(21.68,0) scale(1.160,1)" x="-3.80" y="0">0</text></g>
<g transform="translate(14.30,334.60) rotate(-90)" font-size="9.6" font-weight="normal" font-style="italic" class="n"><text transform="translate(2.27,0) scale(0.993,1)" x="-2.31" y="0">s</text><text transform="translate(6.17,0) scale(1.008,1)" x="-1.25" y="0">i</text><text transform="translate(11.70,0) scale(1.095,1)" x="-3.86" y="0">m</text></g>
<g transform="translate(11.8,361.9) rotate(-90)"><path d="M43.4,1.6 L53.6,-9.9" stroke="#000" stroke-width="1.7" stroke-linecap="butt"/></g>
<g transform="translate(11.80,307.30) rotate(-90)" font-size="13.7" font-weight="bold" class="b"><text transform="translate(4.23,0) scale(1.049,1)" x="-4.19" y="0">T</text><text transform="translate(12.84,0) scale(1.101,1)" x="-3.79" y="0">9</text><text transform="translate(21.68,0) scale(1.160,1)" x="-3.80" y="0">0</text></g>
<g transform="translate(14.30,280.80) rotate(-90)" font-size="9.6" font-weight="normal" font-style="italic" class="n"><text transform="translate(1.67,0) scale(1.300,1)" x="-1.72" y="0">t</text><text transform="translate(5.37,0) scale(1.184,1)" x="-1.84" y="0">r</text><text transform="translate(9.88,0) scale(1.042,1)" x="-2.77" y="0">u</text><text transform="translate(15.64,0) scale(1.048,1)" x="-2.65" y="0">e</text></g>
</g>
</svg></body></html>
